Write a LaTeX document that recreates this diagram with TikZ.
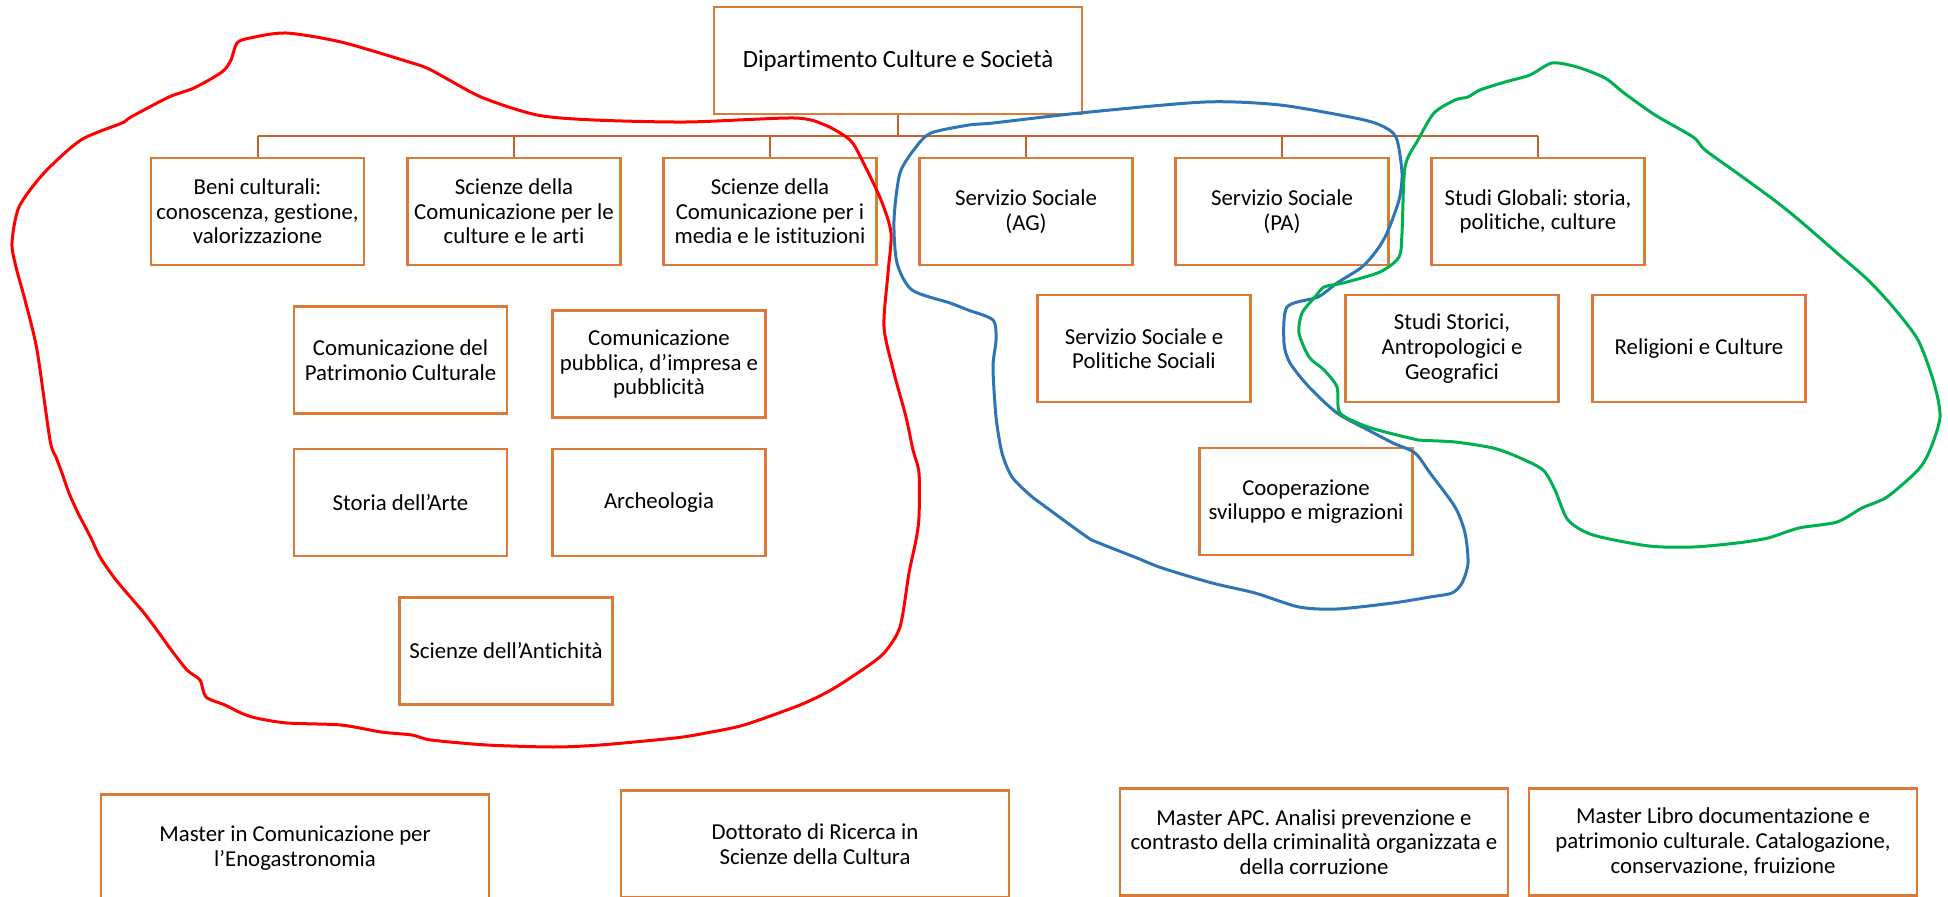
\documentclass[tikz,border=0pt]{standalone}
\usepackage{fontspec}
\setmainfont{Carlito}[Ligatures=NoCommon]
\frenchspacing
\definecolor{boxorange}{RGB}{221,122,56}
\definecolor{linkbrown}{RGB}{193,99,45}
\definecolor{lassored}{RGB}{255,0,0}
\definecolor{lassoblue}{RGB}{46,117,182}
\definecolor{lassogreen}{RGB}{0,176,80}
\tikzstyle{unit} = [draw=boxorange, line width=1.1pt, rectangle, align=center, font=\fontsize{11.4}{12.3}\selectfont, minimum width=106.5pt, minimum height=53.5pt, inner sep=1pt]
\tikzstyle{wide} = [unit, minimum width=194pt]
\tikzstyle{link} = [draw=linkbrown, line width=1pt]
\tikzstyle{lasso} = [line width=1.5pt, line join=round, line cap=round]

\begin{document}
\begin{tikzpicture}[x=0.5pt, y=-0.5pt]
    \useasboundingbox (0,0) rectangle (1948,897);

    \node (root) [unit, minimum width=184pt, font=\fontsize{12.4}{14}\selectfont] at (898,60.5) {Dipartimento Culture e Società};
    \node (beni) [unit] at (257.5,211.5) {Beni culturali:\\conoscenza, gestione,\\valorizzazione};
    \node (arti) [unit] at (514,211.5) {Scienze della\\Comunicazione per le\\culture e le arti};
    \node (media) [unit] at (770,211.5) {Scienze della\\Comunicazione per i\\media e le istituzioni};
    \node (ag) [unit] at (1026,211.5) {Servizio Sociale\\(AG)};
    \node (pa) [unit] at (1282,211.5) {Servizio Sociale\\(PA)};
    \node (globali) [unit] at (1538,211.5) {Studi Globali: storia,\\politiche, culture};

    \node (patrimonio) [unit] at (400.5,360) {Comunicazione del\\Patrimonio Culturale};
    \node (pubblica) [unit] at (659,364) {Comunicazione\\pubblica, d’impresa e\\pubblicità};
    \node (storia) [unit] at (400.5,502.5) {Storia dell’Arte};
    \node (archeo) [unit] at (659,502.5) {Archeologia};
    \node (antichita) [unit] at (506,651) {Scienze dell’Antichità};

    \node (politiche) [unit] at (1144,348.5) {Servizio Sociale e\\Politiche Sociali};
    \node (storici) [unit] at (1452,348.5) {Studi Storici,\\Antropologici e\\Geografici};
    \node (religioni) [unit] at (1699,348.5) {Religioni e Culture};
    \node (coop) [unit] at (1306,501.5) {Cooperazione\\sviluppo e migrazioni};

    \node (eno) [wide] at (295,848) {Master in Comunicazione per\\l’Enogastronomia};
    \node (dott) [wide] at (815,844) {Dottorato di Ricerca in\\Scienze della Cultura};
    \node (apc) [wide] at (1314,842) {Master APC. Analisi prevenzione e\\contrasto della criminalità organizzata e\\della corruzione};
    \node (libro) [wide] at (1723,842) {Master Libro documentazione e\\patrimonio culturale. Catalogazione,\\conservazione, fruizione};

    % Tree lines.
    \coordinate (bar) at (898,136);
    \draw [link] (root.south) -- (bar);
    \draw [link] (beni.north |- bar) -- (globali.north |- bar);
    \foreach \n in {beni, arti, media, ag, pa, globali}
        \draw [link] (\n.north |- bar) -- (\n.north);

    % Hand-drawn groups.
    \draw [lasso, lassored] plot [smooth cycle, tension=0.45] coordinates {
        (286,33) (341,42) (409,62) (431,70) (481,97) (537,115) (594,120) (687,122)
        (794,118) (825,125) (850,140) (862,160) (881,200) (891,233) (888,273) (884,327)
        (894,373) (906,417) (913,450) (919,473) (919,517) (916,540) (909,573) (900,627)
        (884,653) (862,670) (831,690) (800,705) (744,725) (706,733) (675,738) (600,745)
        (553,747) (487,745) (431,740) (412,735) (381,732) (341,725) (287,723) (256,718)
        (241,713) (225,705) (206,697) (200,680) (187,670) (169,647) (162,637) (144,613)
        (116,580) (100,557) (91,538) (78,513) (69,493) (62,473) (56,457) (50,440)
        (37,350) (25,300) (16,267) (12,243) (19,207) (44,173) (81,140) (122,123)
        (131,117) (169,97) (194,88) (222,72) (231,60) (237,43) (250,38)};
    \draw [lasso, lassoblue] plot [smooth cycle, tension=0.45] coordinates {
        (916,147) (931,133) (969,125) (993,123) (1080,113) (1205,102) (1280,105) (1355,118)
        (1380,125) (1396,137) (1402,173) (1399,200) (1387,233) (1377,250) (1362,267) (1337,283)
        (1318,297) (1287,307) (1284,343) (1290,363) (1309,387) (1337,413) (1368,430) (1393,443)
        (1415,453) (1430,473) (1455,507) (1465,533) (1468,563) (1462,583) (1452,593) (1430,597)
        (1393,603) (1337,609) (1299,607) (1255,593) (1212,583) (1162,568) (1137,558) (1099,543)
        (1087,537) (1043,505) (1030,495) (1012,477) (1002,453) (996,417) (993,367) (996,340)
        (993,320) (968,310) (950,303) (912,290) (897,263) (894,220) (900,173)};
    \draw [lasso, lassogreen] plot [smooth cycle, tension=0.45] coordinates {
        (1552,63) (1577,67) (1605,78) (1624,93) (1655,115) (1693,137) (1705,150) (1737,173)
        (1774,200) (1799,220) (1837,253) (1868,280) (1893,307) (1918,340) (1934,383) (1940,417)
        (1930,450) (1918,470) (1887,497) (1862,508) (1837,522) (1799,528) (1768,538) (1737,543)
        (1693,547) (1649,546) (1593,535) (1568,520) (1555,490) (1543,470) (1518,457) (1493,448)
        (1455,442) (1418,440) (1405,437) (1368,427) (1340,413) (1337,387) (1324,370) (1309,357)
        (1299,333) (1302,313) (1315,297) (1324,287) (1343,283) (1380,272) (1399,257) (1402,233)
        (1405,167) (1418,140) (1434,113) (1455,100) (1468,97) (1480,90) (1505,82) (1530,75)};
\end{tikzpicture}
\end{document}
